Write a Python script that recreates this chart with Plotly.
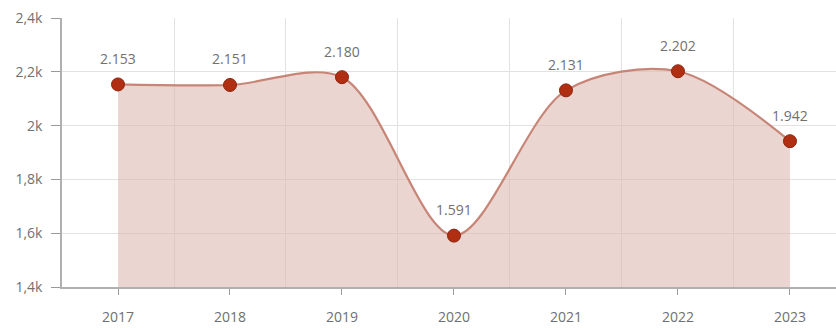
import plotly.graph_objects as go

years = ["2017", "2018", "2019", "2020", "2021", "2022", "2023"]
values = [2153, 2151, 2180, 1591, 2131, 2202, 1942]
y_ticks = [1400, 1600, 1800, 2000, 2200, 2400]
y_tick_labels = ["1,4k", "1,6k", "1,8k", "2k", "2,2k", "2,4k"]

x = list(range(len(years)))
labels = [f"{v:,}".replace(",", ".") for v in values]

fig = go.Figure()
fig.add_trace(go.Scatter(
    x=x, y=values,
    mode="lines+markers",
    line=dict(color="#c68576", width=2.2, shape="spline", smoothing=0.9),
    fill="tozeroy",
    fillcolor="rgba(222,185,176,0.6)",
    marker=dict(size=13, color="#b02e12", line=dict(color="#8c2410", width=1)),
    hoverinfo="skip",
))

for xi, v, t in zip(x, values, labels):
    fig.add_annotation(x=xi, y=v, text=t, showarrow=False, yshift=26,
                       font=dict(size=14, color="#707070"))

fig.update_layout(
    width=836, height=328,
    margin=dict(l=62, r=0, t=18, b=41),
    paper_bgcolor="white", plot_bgcolor="white",
    font=dict(family="Open Sans, sans-serif", size=13, color="#707070"),
    showlegend=False,
)
fig.update_xaxes(
    range=[-0.5, 6.411],
    tickvals=x, ticktext=years,
    showgrid=False, zeroline=False,
    showline=True, linecolor="#b0b0b0", linewidth=1.5,
    ticks="outside", ticklen=6, tickcolor="#9a9a9a",
    ticklabelstandoff=10,
    tickfont=dict(size=14, color="#707070"),
    minor=dict(tickvals=[i + 0.5 for i in x], showgrid=True, gridcolor="#e2e2e2", gridwidth=1, ticks=""),
)
fig.update_yaxes(
    range=[1400, 2400],
    tickvals=y_ticks, ticktext=y_tick_labels,
    showgrid=True, gridcolor="#e2e2e2", gridwidth=1, zeroline=False,
    showline=True, linecolor="#b0b0b0", linewidth=1.5,
    ticks="outside", ticklen=9, tickcolor="#9a9a9a",
    ticklabelstandoff=6,
    tickfont=dict(size=14, color="#707070"),
)

fig.write_html("out.html")
